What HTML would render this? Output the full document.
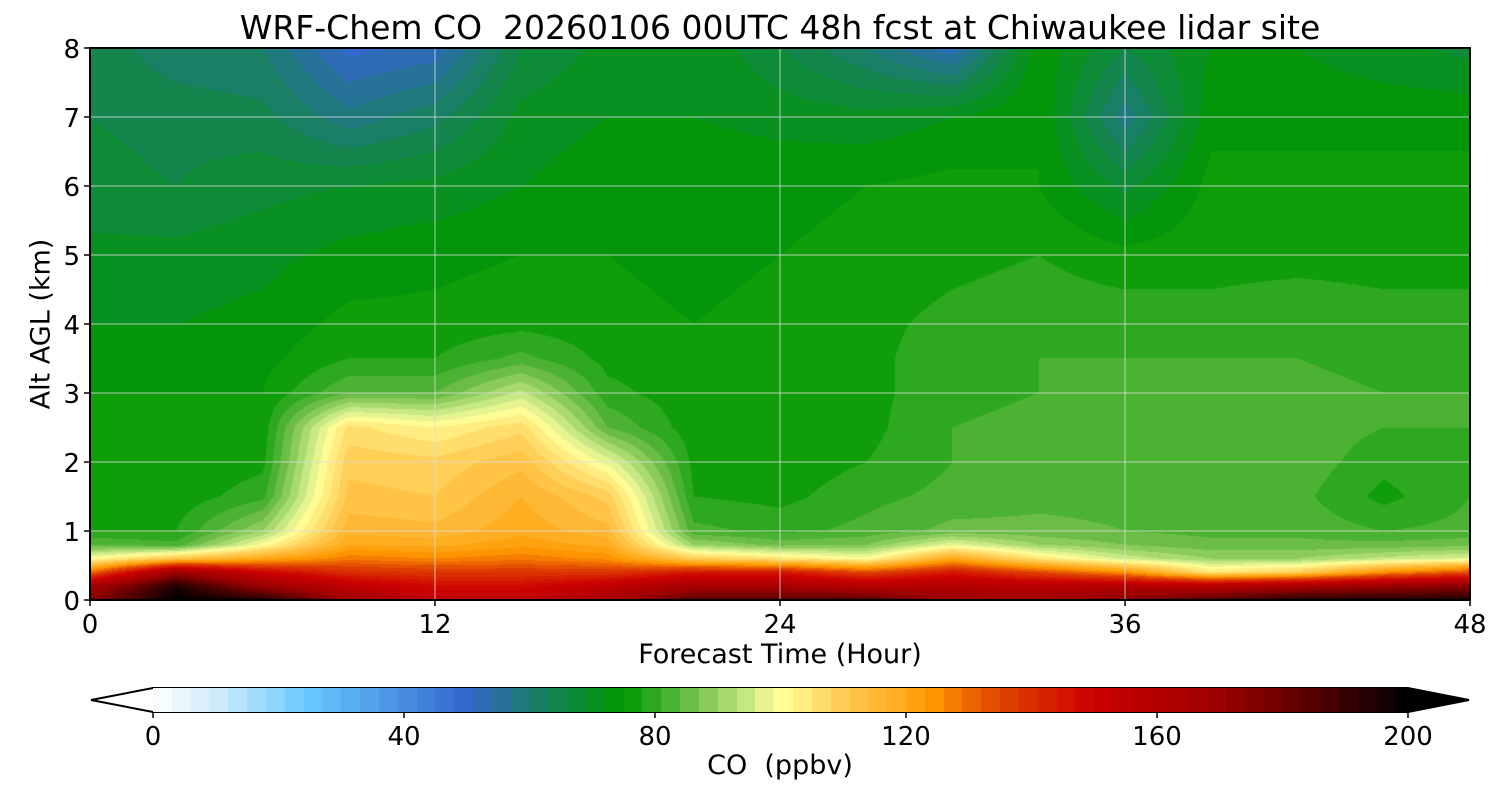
<!DOCTYPE html>
<html><head><meta charset="utf-8"><style>
body{margin:0;background:#fff;}
#wrap{position:relative;width:1500px;height:800px;font-family:"DejaVu Sans","Liberation Sans",sans-serif;color:#000;}
.t{position:absolute;white-space:nowrap;}
canvas{position:absolute;}
</style></head><body>
<div id="wrap">
<div class="t" style="left:0;width:1560px;text-align:center;top:8px;font-size:33px;">WRF-Chem CO&nbsp; 20260106 00UTC 48h fcst at Chiwaukee lidar site</div>
<canvas id="field" width="1380" height="552" style="left:90px;top:48px;"></canvas>
<svg id="ax" width="1500" height="800" style="position:absolute;left:0;top:0"></svg>
<canvas id="cbar" width="1255" height="24" style="left:153px;top:688px;"></canvas>
<div class="t" style="left:0;width:1560px;text-align:center;top:639px;font-size:27px;">Forecast Time (Hour)</div>
<div class="t" style="left:41px;top:324px;font-size:27px;transform:translate(-50%,-50%) rotate(-90deg);">Alt AGL (km)</div>
<div class="t" style="left:0;width:1560px;text-align:center;top:750px;font-size:27px;">CO&nbsp; (ppbv)</div>
</div>
<script>
const times=[0,3,6,9,12,15,18,21,24,27,30,33,36,39,42,45,48];
const heights=[0,0.2,0.4,0.6,0.8,1.0,1.5,2,2.5,3,3.5,4,5,6,7,8];
// CO (ppbv): one row per time, values at each height
const co=[
[175,165,130,100,84,78,76,76,75,75,74,72,70,67,66,65],
[200,195,170,112,82,78,76,75,75,75,74,72,70,66,65,61],
[195,170,150,120,100,90,80,77,76,75,74,73,71,68,64,60],
[170,155,140,128,120,116,112,110,106,84,78,76,73,69,58,50],
[155,148,138,126,119,115,111,109,102,84,78,76,74,70,62,52],
[155,148,138,128,122,119,117,113,107,94,82,77,75,72,70,66],
[165,155,138,125,119,115,110,98,84,79,77,76,75,74,72,70],
[185,165,145,110,90,82,78,77,76,76,76,75,74,74,72,72],
[185,165,145,105,86,80,77,76,76,76,76,76,75,74,71,66],
[185,160,135,100,87,82,80,78,77,77,77,77,76,75,70,60],
[170,160,145,120,98,85,82,81,81,80,80,79,77,76,72,52],
[170,158,135,105,90,85,83,82,82,81,81,80,78,75,75,74],
[175,160,125,95,87,84,83,83,83,82,81,80,76,68,58,66],
[185,160,105,90,85,83,83,83,84,83,81,79,77,76,74,72],
[195,165,110,90,85,83,82,83,83,82,81,80,77,76,74,72],
[195,170,125,94,85,81,77,79,81,81,80,79,77,76,74,70],
[195,175,135,97,86,82,81,81,81,81,80,79,77,76,74,68]];
const cmapVals=[0,10,25,40,50,59,67,75,85,95,100,110,124,135,150,171,185,200];
const cmapCols=["#ffffff","#d0ecfb","#66c8ff","#4a8ee0","#3366cc","#1e7a78","#0e8a3a","#009900","#66bb44","#ccea88","#ffff99","#ffcc55","#ff9900","#e04400","#cc0000","#990000","#550000","#000000"];
const xTicks=[0,12,24,36,48];
const yTicks=[0,1,2,3,4,5,6,7,8];
const cbTicks=[0,40,80,120,160,200];

const X0=90,X1=1470,Y0=600,Y1=48;
const xs=t=>X0+(t-0)/48*(X1-X0);
const ys=h=>Y0-(h/8)*(Y0-Y1);
const cbx=v=>153+v/200*(1408-153);
function hex(c){return [parseInt(c.substr(1,2),16),parseInt(c.substr(3,2),16),parseInt(c.substr(5,2),16)];}
const rgbs=cmapCols.map(hex);
function color(v){
  v=Math.floor(v/3+1e-6)*3+1.5;
  if(v<=0)return rgbs[0]; if(v>=200)return rgbs[rgbs.length-1];
  for(let i=0;i<cmapVals.length-1;i++){if(v<=cmapVals[i+1]){const f=(v-cmapVals[i])/(cmapVals[i+1]-cmapVals[i]);return rgbs[i].map((a,k)=>a+(rgbs[i+1][k]-a)*f);}}
}
function idx(arr,v){for(let i=0;i<arr.length-1;i++)if(v<=arr[i+1])return [i,(v-arr[i])/(arr[i+1]-arr[i])];return [arr.length-2,1];}
function val(t,h){
  const [i,fx]=idx(times,t),[j,fy]=idx(heights,h);
  const a=co[i][j],b=co[i+1][j],c=co[i][j+1],d=co[i+1][j+1];
  return a*(1-fx)*(1-fy)+b*fx*(1-fy)+c*(1-fx)*fy+d*fx*fy;
}
const fc=document.getElementById('field'),fx=fc.getContext('2d');
const W=fc.width,H=fc.height,img=fx.createImageData(W,H);
for(let py=0;py<H;py++){const h=(Y0-(Y1+py+0.5))/(Y0-Y1)*8;
 for(let px=0;px<W;px++){const t=(px+0.5)/(X1-X0)*48;const c=color(val(t,h));const o=(py*W+px)*4;
  img.data[o]=c[0];img.data[o+1]=c[1];img.data[o+2]=c[2];img.data[o+3]=255;}}
fx.putImageData(img,0,0);
const cc=document.getElementById('cbar'),cx=cc.getContext('2d');
for(let px=0;px<cc.width;px++){const v=(px+0.5)/cc.width*200;const c=color(v);cx.fillStyle=`rgb(${c[0]|0},${c[1]|0},${c[2]|0})`;cx.fillRect(px,0,1,24);}
const svg=document.getElementById('ax'),NS='http://www.w3.org/2000/svg';
function mk(tag,attrs,name){const e=document.createElementNS(NS,tag);for(const k in attrs)e.setAttribute(k,attrs[k]);
 
 
 svg.appendChild(e);return e;}
const FF='DejaVu Sans, Liberation Sans, sans-serif';
xTicks.forEach(t=>{const x=xs(t);
 if(t>0&&t<48)mk('line',{x1:x,x2:x,y1:Y1,y2:Y0,stroke:'#dddddd','stroke-width':1,opacity:0.8},'x-gridline');
 mk('line',{x1:x,x2:x,y1:Y0,y2:Y0+6,stroke:'#000','stroke-width':1.5},'x-tick');
 const tx=mk('text',{x:x,y:633,'text-anchor':'middle','font-size':26,'font-family':FF},'x-tick-label');tx.textContent=t;});
yTicks.forEach(h=>{const y=ys(h);
 if(h>0&&h<8)mk('line',{x1:X0,x2:X1,y1:y,y2:y,stroke:'#dddddd','stroke-width':1,opacity:0.8},'y-gridline');
 mk('line',{x1:X0-6,x2:X0,y1:y,y2:y,stroke:'#000','stroke-width':1.5},'y-tick');
 const tx=mk('text',{x:80,y:y+10,'text-anchor':'end','font-size':26,'font-family':FF},'y-tick-label');tx.textContent=h;});
mk('rect',{x:X0,y:Y1,width:X1-X0,height:Y0-Y1,fill:'none',stroke:'#000','stroke-width':2},'plot-frame');
mk('polygon',{points:'153,688 91,700 153,712',fill:'#ffffff',stroke:'none'},'colorbar-min-extension');
mk('polygon',{points:'1408,688 1469,700 1408,712',fill:'#000000',stroke:'none'},'colorbar-max-extension');
mk('polygon',{points:'153,688 1408,688 1469,700 1408,712 153,712 91,700',fill:'none',stroke:'#000','stroke-width':2},'colorbar-frame');
cbTicks.forEach(v=>{const x=cbx(v);
 mk('line',{x1:x,x2:x,y1:712,y2:718,stroke:'#000','stroke-width':1.5},'colorbar-tick');
 const tx=mk('text',{x:x,y:745,'text-anchor':'middle','font-size':26,'font-family':FF},'colorbar-tick-label');tx.textContent=v;});
</script>
</body></html>
